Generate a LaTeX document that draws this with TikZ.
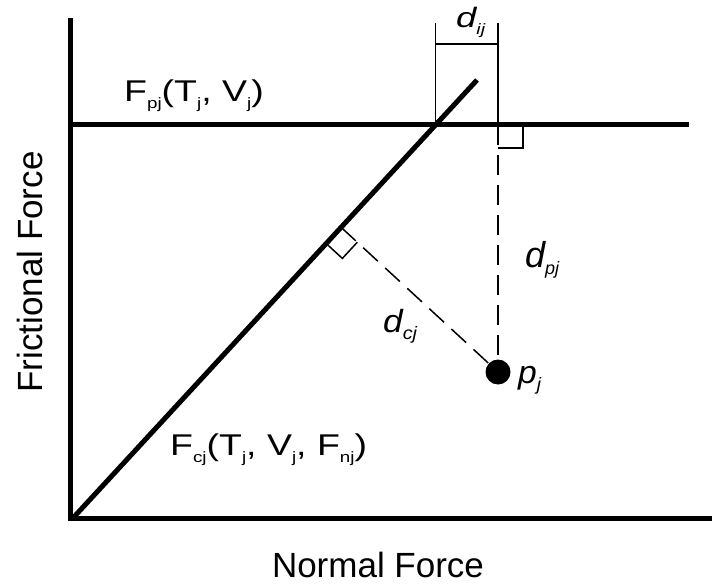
\documentclass[tikz,border=0pt]{standalone}
\usepackage{fontspec}
\setmainfont{Liberation Sans}
\usetikzlibrary{positioning,calc}
\newcommand{\lsub}[2][15]{\raisebox{-7pt}{\fontsize{#1}{#1}\selectfont #2}}
\newcommand{\wide}[2][1.25]{\scalebox{#1}[1]{#2}}

\begin{document}
\begin{tikzpicture}[x=1pt,y=-1pt,
   axis/.style={line width=5pt},
   thinline/.style={line width=1.5pt},
   dashline/.style={line width=1.5pt,dash pattern=on 20pt off 10pt},
   lbl/.style={inner sep=0pt,anchor=base west,font=\fontsize{30}{30}\selectfont},
   dlbl/.style={inner sep=0pt,anchor=base west,font=\fontsize{#1}{#1}\selectfont\itshape},
   title/.style={inner sep=0pt,anchor=base,font=\fontsize{35}{35}\selectfont}]
 \useasboundingbox (0,0) rectangle (714,588);
 % axes and the two friction lines
 \coordinate (O) at (70,518);
 \coordinate (Ytop) at (70,18);
 \coordinate (Xend) at (712,518);
 \coordinate (Hl) at (70,125);
 \coordinate (Hr) at (689,125);
 \coordinate (C0) at (73,518);
 \coordinate (C1) at (477,80);
 \coordinate (X) at (intersection of C0--C1 and Hl--Hr);
 \draw[axis] (Ytop) -- (O) -- (Xend);
 \draw[axis] (Hl) -- (Hr);
 \draw[axis] (C0) -- (C1);
 % point p_j and its feet on both lines
 \node[circle,fill,inner sep=0pt,minimum size=25pt] (pj) at (498,372) {};
 \coordinate (Pp) at (pj |- Hl);
 \coordinate (Pc) at ($(C0)!(pj)!(C1)$);
 \draw[dashline] (Pp) -- (pj);
 \draw[dashline] (Pc) -- (pj);
 % right angle marks
 \draw[thinline] ($(Pp)+(0,23)$) -- ($(Pp)+(25,23)$) -- ($(Pp)+(25,0)$);
 \coordinate (Ma) at ($(Pc)!22pt!(C0)$);
 \coordinate (Mb) at ($(Pc)!22pt!(pj)$);
 \draw[thinline] (Ma) -- ($(Ma)+(Mb)-(Pc)$) -- (Mb);
 % dimension d_ij
 \coordinate (Dl) at (X |- 0,23);
 \coordinate (Dr) at (Pp |- 0,23);
 \draw[thinline] (Dl) -- (X);
 \draw[thinline] (Dr) -- (Pp);
 \draw[thinline] ($(Dl)+(0,21)$) -- ($(Dr)+(0,21)$);
 % labels
 \node[lbl] (Fp) at (124,102) {\wide{F\lsub{pj}(T\lsub{j}, V\lsub{j})}};
 \node[lbl] (Fc) at (170,455) {\wide{F\lsub{cj}(T\lsub{j}, V\lsub{j}, F\lsub{nj})}};
 \node[dlbl=28] (dij) at (456,28) {\wide[1.3]{d\lsub[15]{ij}}};
 \node[dlbl=36] (dpj) at (525,267) {\wide[1.0]{d\lsub[18]{pj}}};
 \node[dlbl=32] (dcj) at (383,332) {\wide[1.1]{d\lsub[18]{cj}}};
 \node[dlbl=32] (pjl) at (518,383) {\wide[1.05]{p\lsub[18]{j}}};
 \node[title,rotate=90] (ylab) at (42,272) {Frictional Force};
 \node[title] (xlab) at (378,577) {Normal Force};
\end{tikzpicture}
\end{document}
